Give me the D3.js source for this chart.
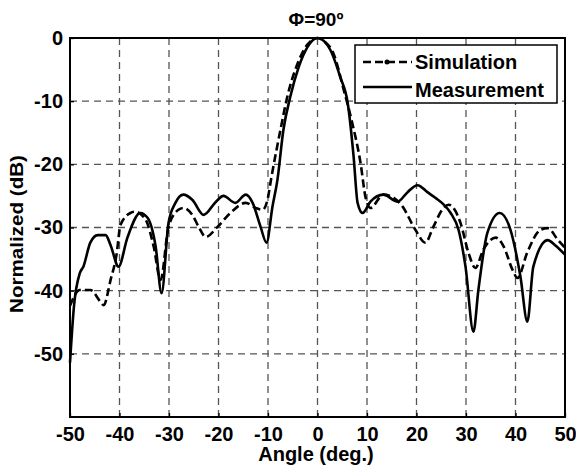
<!DOCTYPE html>
<html>
<head>
<meta charset="utf-8">
<script src="https://cdn.jsdelivr.net/npm/d3@7"></script>
<style>
body { margin: 0; background: #fff; }
text { font-family: "Liberation Sans", Arial, sans-serif; font-weight: bold; }
</style>
</head>
<body>
<svg id="chart" width="576" height="471"></svg>
<script>
var xTicks = [-50, -40, -30, -20, -10, 0, 10, 20, 30, 40, 50];
var yTicks = [0, -10, -20, -30, -40, -50];

var simAngle = [-50, -48, -45.9, -43.8, -43.2, -41.8, -40.6, -39.8, -37.8, -36.8, -34.7, -33.1, -31.7, -30.1, -28.1, -27.1, -25.3, -24, -22.6, -20.2, -17.6, -14.5, -12.5, -11.1, -10.1, -9.3, -7.5, -6.1, -4, -2, 0, 1.5, 3.2, 5.3, 7, 8.7, 9.7, 10.7, 13.3, 15.4, 17.2, 19.8, 21.8, 23.4, 25.2, 26.5, 28.9, 30.5, 31.9, 33.5, 36, 37.6, 39.4, 40.4, 42.4, 45, 46.5, 48.6, 50];
var simDb = [-42.4, -39.9, -39.9, -41.8, -42.3, -38.3, -34.3, -29.6, -27.7, -27.5, -28.8, -33, -38.3, -29.9, -27.2, -26.9, -28, -29.9, -31.5, -29.9, -27.7, -26.1, -26.9, -27.2, -25.6, -22, -14.6, -9.3, -4, -1, 0, -0.6, -2.4, -8.2, -13.4, -19.8, -25.2, -26.9, -24.8, -25.3, -26.7, -30.4, -32.4, -29.9, -27.2, -26.4, -29.3, -34, -36.4, -33.5, -31.6, -33, -36.7, -38, -33.9, -30.4, -30.1, -32, -33.2];

var measAngle = [-50, -49.2, -48, -47.3, -45.9, -44.4, -42.8, -41.8, -40.2, -38.4, -35.8, -34.3, -32.7, -31.5, -30.1, -28.7, -27.1, -25.3, -23, -20.6, -19, -16.6, -14.5, -13.1, -11.5, -10.3, -9.1, -8.1, -6.9, -5.5, -3.8, -2, 0, 2.6, 4.6, 6.1, 7.3, 8.1, 9.1, 10.7, 13.3, 16.2, 18.2, 20.2, 22.2, 23.8, 25.4, 26.9, 28.5, 29.9, 31.5, 32.5, 34.3, 36.8, 39, 41, 42.4, 43.6, 46.5, 48, 50];
var measDb = [-51.4, -42.5, -37.2, -36.2, -32.4, -31.2, -31.2, -32.8, -36.2, -31.6, -27.7, -28.5, -33, -40.4, -29.3, -26.1, -24.8, -25.6, -28, -26, -25, -26.1, -24.8, -26.1, -29.9, -32.4, -26.7, -22.5, -14.6, -9.3, -4.6, -1.4, 0, -1.9, -6.2, -10.3, -18.8, -26.1, -27.7, -25.9, -24.8, -25.9, -24.4, -23.3, -24.4, -25.3, -26.3, -27.7, -30.4, -36.2, -46.5, -39.9, -30.9, -27.7, -30.4, -37.8, -44.9, -36.2, -32, -32.8, -34.3];

var svg = d3.select("#chart");
var mLeft = 70, mRight = 565, mTop = 38, mBottom = 417;

var x = d3.scaleLinear().domain([-50, 50]).range([mLeft, mRight]);
var y = d3.scaleLinear().domain([-60, 0]).range([mBottom, mTop]);

// grid
var grid = svg.append("g");
xTicks.forEach(function(t){
    if(t == -50 || t == 50) return;
    grid.append("line")
        .attr("x1", x(t)).attr("x2", x(t))
        .attr("y1", mTop).attr("y2", mBottom)
        .attr("stroke", "#555").attr("stroke-width", 1.3)
        .attr("stroke-dasharray", "7,5");
});
yTicks.forEach(function(t){
    if(t == 0) return;
    grid.append("line")
        .attr("x1", mLeft).attr("x2", mRight)
        .attr("y1", y(t)).attr("y2", y(t))
        .attr("stroke", "#555").attr("stroke-width", 1.3)
        .attr("stroke-dasharray", "7,5");
});

// axes
var fmt = function(d){ return String(d); };
var xAxis = svg.append("g")
    .attr("transform", "translate(0," + mBottom + ")")
    .call(d3.axisBottom(x).tickValues(xTicks).tickFormat(fmt).tickSize(-4).tickPadding(10));
var yAxis = svg.append("g")
    .attr("transform", "translate(" + mLeft + ",0)")
    .call(d3.axisLeft(y).tickValues(yTicks).tickFormat(fmt).tickSize(-4).tickPadding(7));
[xAxis, yAxis].forEach(function(a){
    a.select(".domain").remove();
    a.selectAll("line").attr("stroke", "#000").attr("stroke-width", 1.3);
    a.selectAll("text").attr("font-size", 20).attr("fill", "#000")
        .style("font-family", "'Liberation Sans', Arial, sans-serif").style("font-weight", "bold");
});

svg.append("rect")
    .attr("x", mLeft).attr("y", mTop)
    .attr("width", mRight - mLeft).attr("height", mBottom - mTop)
    .attr("fill", "none").attr("stroke", "#000").attr("stroke-width", 2);

var line = d3.line()
    .x(function(d){ return x(d[0]); })
    .y(function(d){ return y(d[1]); })
    .curve(d3.curveMonotoneX);

var plot = svg.append("g");
plot.append("path")
    .datum(d3.zip(measAngle, measDb))
    .attr("d", line)
    .attr("fill", "none").attr("stroke", "#000").attr("stroke-width", 2.6)
    .attr("stroke-linejoin", "round");
plot.append("path")
    .datum(d3.zip(simAngle, simDb))
    .attr("d", line)
    .attr("fill", "none").attr("stroke", "#000").attr("stroke-width", 2.6)
    .attr("stroke-dasharray", "8,4");

// title & labels
svg.append("text").attr("x", 316).attr("y", 26)
    .attr("text-anchor", "middle").attr("font-size", 19).text("Φ=90º");
svg.append("text").attr("x", 316).attr("y", 461)
    .attr("text-anchor", "middle").attr("font-size", 20).text("Angle (deg.)");
svg.append("text")
    .attr("transform", "translate(23,234) rotate(-90)")
    .attr("text-anchor", "middle").attr("font-size", 19)
    .attr("textLength", 158).attr("lengthAdjust", "spacingAndGlyphs")
    .text("Normalized (dB)");

// legend
var lg = svg.append("g");
lg.append("rect").attr("x", 355).attr("y", 45).attr("width", 202).attr("height", 58)
    .attr("fill", "#fff").attr("stroke", "#000").attr("stroke-width", 1.5);
lg.append("line").attr("x1", 363).attr("x2", 412).attr("y1", 62).attr("y2", 62)
    .attr("stroke", "#000").attr("stroke-width", 2.6).attr("stroke-dasharray", "8,4");
lg.append("circle").attr("cx", 387).attr("cy", 62).attr("r", 2.5).attr("fill", "#000");
lg.append("text").attr("x", 415).attr("y", 69).attr("font-size", 20).text("Simulation");
lg.append("line").attr("x1", 363).attr("x2", 412).attr("y1", 87).attr("y2", 87)
    .attr("stroke", "#000").attr("stroke-width", 2.6);
lg.append("text").attr("x", 415).attr("y", 97).attr("font-size", 20).text("Measurement");
</script>
</body>
</html>
